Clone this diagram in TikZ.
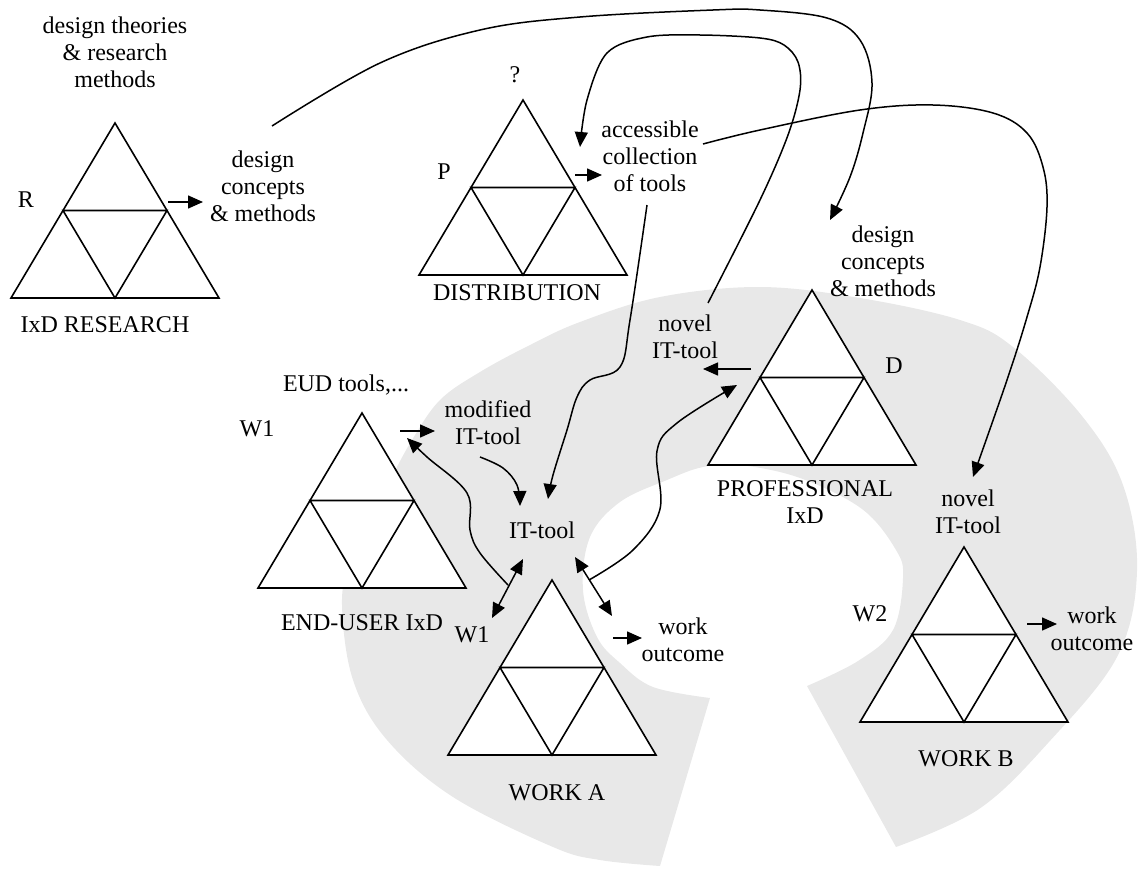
\documentclass[tikz,border=0pt]{standalone}
\usepackage{fontspec}
\setmainfont{Liberation Serif}
\usetikzlibrary{arrows.meta}
\definecolor{ringgray}{HTML}{E8E8E8}
\tikzset{
  lbl/.style={inner sep=0pt, align=center, font=\fontsize{24}{27}\selectfont},
  arr/.style={line width=1.5pt, -{Triangle[length=15pt,width=13pt]}},
  darr/.style={line width=1.5pt, {Triangle[length=15pt,width=13pt]}-{Triangle[length=15pt,width=13pt]}},
  tri/.pic={
    \filldraw[fill=white, line width=1.6pt, line join=miter] (0,0) -- (-104,175) -- (104,175) -- cycle;
    \draw[line width=1.6pt, line join=miter] (-52,87.5) -- (52,87.5) -- (0,175) -- cycle;
  }
}
\begin{document}
\begin{tikzpicture}[x=1pt,y=-1pt]
\useasboundingbox (0,0) rectangle (1140,870);

% shaded band around the work and design activities
\fill[ringgray]
  plot[smooth, tension=0.6] coordinates {(660,866) (600,860) (553,847) (453,797) (387,740) (353,680) (342,605) (350,560) (368,520) (390,480) (412,440) (440,400) (480,372) (530,345) (580,322) (660,297) (760,287) (860,298) (960,320) (1013,347) (1082,416) (1123,485) (1137,571) (1117,657) (1048,743) (979,809) (896,847)}
  -- plot[smooth, tension=0.6] coordinates {(807,686) (858,661) (893,630) (903,578) (896,550) (862,509) (800,478) (740,465) (703,467) (667,480) (620,502) (590,537) (583,590) (597,637) (620,663) (653,687) (710,698)}
  -- cycle;

% activity triangles
\pic (tR) at (115,123) {tri};
\pic (tP) at (523,100) {tri};
\pic (tE) at (362,413) {tri};
\pic (tA) at (552,580) {tri};
\pic (tD) at (812,290) {tri};
\pic (tB) at (964,547) {tri};

% labels
\node[lbl] (theories) at (115,52) {design theories\\\& research\\methods};
\node[lbl] (dcR) at (263,186) {design\\concepts\\\& methods};
\node[lbl] (lR) at (26,200) {R};
\node[lbl] (research) at (105,325) {IxD RESEARCH};
\node[lbl] (qm) at (515,75) {?};
\node[lbl] (lP) at (444,172) {P};
\node[lbl] (acc) at (650,156) {accessible\\collection\\of tools};
\node[lbl] (distr) at (517,293) {DISTRIBUTION};
\node[lbl] (eud) at (346,385) {EUD tools,...};
\node[lbl] (lW1a) at (257,429) {W1};
\node[lbl] (modif) at (488,423) {modified\\IT-tool};
\node[lbl] (ittool) at (542,530) {IT-tool};
\node[lbl] (enduser) at (362,623) {END-USER IxD};
\node[lbl] (lW1b) at (472,635) {W1};
\node[lbl] (workA) at (557,793) {WORK A};
\node[lbl] (outA) at (683,640) {work\\outcome};
\node[lbl] (novelD) at (685,337) {novel\\IT-tool};
\node[lbl] (lD) at (894,366) {D};
\node[lbl] (prof) at (805,502) {PROFESSIONAL\\IxD};
\node[lbl] (dcD) at (883,261) {design\\concepts\\\& methods};
\node[lbl] (novelB) at (968,512) {novel\\IT-tool};
\node[lbl] (lW2) at (870,614) {W2};
\node[lbl] (outB) at (1092,629) {work\\outcome};
\node[lbl] (workB) at (966,759) {WORK B};

% connector end points
\coordinate (rOut1) at (168,202);  \coordinate (rOut2) at (203,202);
\coordinate (pOut1) at (575,175);  \coordinate (pOut2) at (602,175);
\coordinate (eOut1) at (400,431);  \coordinate (eOut2) at (435,431);
\coordinate (dOut1) at (751,369);  \coordinate (dOut2) at (703,369);
\coordinate (aOut1) at (613,638);  \coordinate (aOut2) at (642,638);
\coordinate (bOut1) at (1027,624); \coordinate (bOut2) at (1057,624);
\coordinate (w1Low) at (492,618);  \coordinate (w1High) at (523,559);
\coordinate (oHigh) at (575,557);  \coordinate (oLow) at (612,616);
\coordinate (w1Mid) at (508,585);  \coordinate (oMid) at (589,580);
\coordinate (dcRtop) at (272,126); \coordinate (dcDtip) at (830,220);
\coordinate (novDtop) at (708,303); \coordinate (accTip) at (580,147);
\coordinate (accEnd) at (703,144); \coordinate (novBtip) at (973,477);
\coordinate (accLow) at (647,205); \coordinate (itTip1) at (548,499);
\coordinate (modLow) at (480,457); \coordinate (itTip2) at (520,506);
\coordinate (eTip) at (407,438);   \coordinate (dTip) at (737,385);

% outputs of each activity
\draw[arr] (rOut1) -- (rOut2);
\draw[arr] (pOut1) -- (pOut2);
\draw[arr] (eOut1) -- (eOut2);
\draw[arr] (dOut1) -- (dOut2);
\draw[arr] (aOut1) -- (aOut2);
\draw[arr] (bOut1) -- (bOut2);

% use of the IT-tool in work A
\draw[darr] (w1Low) -- (w1High);
\draw[darr] (oHigh) -- (oLow);

% long flows between activities
\draw[arr] plot[smooth, tension=0.6] coordinates {(dcRtop) (380,63) (480,30) (580,17) (713,10) (760,10) (827,18) (860,40) (872,83) (863,133) (850,177) (dcDtip)};
\draw[arr] plot[smooth, tension=0.55] coordinates {(novDtop) (760,200) (788,135) (800,90) (798,62) (784,45) (760,38) (700,35) (647,37) (607,53) (587,100) (accTip)};
\draw[arr] plot[smooth, tension=0.6] coordinates {(accEnd) (760,130) (860,110) (933,105) (993,113) (1027,133) (1043,167) (1047,207) (1040,267) (1027,317) (1007,380) (novBtip)};
\draw[arr] plot[smooth, tension=0.6] coordinates {(accLow) (630,320) (620,367) (590,380) (577,397) (567,430) (553,475) (itTip1)};
\draw[arr] plot[smooth, tension=0.6] coordinates {(modLow) (503,468) (517,485) (itTip2)};
\draw[arr] plot[smooth, tension=0.6] coordinates {(w1Mid) (480,553) (470,530) (467,493) (427,457) (eTip)};
\draw[arr] plot[smooth, tension=0.6] coordinates {(oMid) (633,550) (660,509) (657,451) (677,423) (dTip)};
\end{tikzpicture}
\end{document}
